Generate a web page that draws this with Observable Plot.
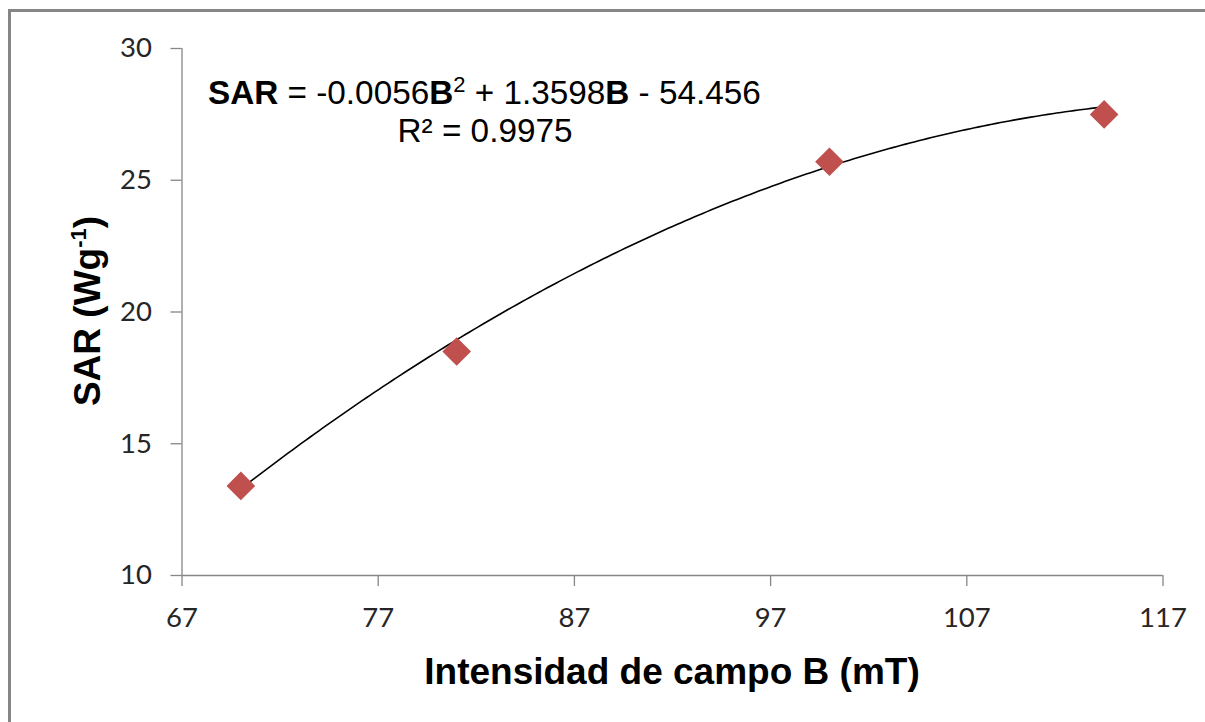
<!DOCTYPE html>
<html>
<head>
<meta charset="utf-8">
<script src="https://cdn.jsdelivr.net/npm/d3@7"></script>
<script src="https://cdn.jsdelivr.net/npm/@observablehq/plot@0.6"></script>
<style>
  html, body { margin: 0; padding: 0; background: #fff; }
  #wrap { position: relative; width: 1205px; height: 722px; overflow: hidden; }
  #frame { position: absolute; left: 8px; top: 9px; width: 1300px; height: 800px;
           border-top: 3px solid #868686; border-left: 3px solid #868686; }
  #chart { position: absolute; left: 0; top: 0; }
</style>
</head>
<body>
<div id="wrap"><div id="frame"></div><div id="chart"></div></div>
<script>
// Measured SAR at each field intensity
const fieldB = [70, 81, 100, 114];
const sarValues = [13.4, 18.5, 25.7, 27.5];

// Axis ticks
const xTicks = [67, 77, 87, 97, 107, 117];
const yTicks = [10, 15, 20, 25, 30];

// Quadratic trendline: SAR = a·B² + b·B + c
const fitCoefficients = [-0.0056, 1.3598, -54.456];
const rSquared = 0.9975;

const points = fieldB.map((b, i) => ({B: b, SAR: sarValues[i]}));

// Sample the stated trendline across the measured range
const [qa, qb, qc] = fitCoefficients;
const bMin = d3.min(fieldB), bMax = d3.max(fieldB);
const trend = d3.range(0, 201).map(i => {
  const B = bMin + (bMax - bMin) * i / 200;
  return {B, SAR: qa * B * B + qb * B + qc};
});

const axisGray = "#868686";

const chart = Plot.plot({
  width: 1205,
  height: 722,
  marginLeft: 181.5,
  marginRight: 42.5,
  marginTop: 48,
  marginBottom: 147,
  style: {background: "transparent", fontFamily: "Lato, 'Open Sans', sans-serif", fontSize: "27px", color: "#262626"},
  x: {domain: [67, 117]},
  y: {domain: [10, 30]},
  marks: [
    Plot.ruleX([67], {stroke: axisGray, strokeWidth: 1.3}),
    Plot.ruleY([10], {stroke: axisGray, strokeWidth: 1.3}),
    Plot.axisX({ticks: xTicks, tickSize: 11, tickPadding: 21, stroke: axisGray, strokeWidth: 1.3,
                fill: "#262626", fontSize: 27.5, label: null, tickFormat: d => String(d)}),
    Plot.axisY({ticks: yTicks, tickSize: 11, tickPadding: 19, stroke: axisGray, strokeWidth: 1.3,
                fill: "#262626", fontSize: 27.5, label: null, tickFormat: d => String(d)}),
    Plot.line(trend, {x: "B", y: "SAR", stroke: "#000", strokeWidth: 1.6}),
    Plot.dot(points, {x: "B", y: "SAR", symbol: "diamond2", r: 12.9, fill: "#C0504D", stroke: "none"})
  ]
});

document.getElementById("chart").appendChild(chart);

const svg = d3.select(chart);
const titleFont = "'Liberation Sans', Arial, sans-serif";

// x-axis title
svg.append("text")
  .attr("x", 672).attr("y", 684)
  .attr("text-anchor", "middle")
  .attr("font-family", titleFont).attr("font-weight", "bold").attr("font-size", 37)
  .attr("fill", "#000")
  .text("Intensidad de campo B (mT)");

// y-axis title with superscript unit
const yTitle = svg.append("text")
  .attr("transform", "translate(100,311) rotate(-90)")
  .attr("text-anchor", "middle")
  .attr("font-family", titleFont).attr("font-weight", "bold").attr("font-size", 37)
  .attr("fill", "#000");
yTitle.append("tspan").text("SAR (Wg");
yTitle.append("tspan").attr("font-size", 22).attr("dy", -14).text("-1");
yTitle.append("tspan").attr("dy", 14).text(")");

// Trendline equation
const fmt = v => String(v);
const eq = svg.append("text")
  .attr("x", 208).attr("y", 104)
  .attr("text-anchor", "start")
  .attr("font-family", titleFont).attr("font-size", 33.3)
  .attr("fill", "#000");
eq.append("tspan").attr("font-weight", "bold").text("SAR");
eq.append("tspan").text(` = ${fmt(qa)}`);
eq.append("tspan").attr("font-weight", "bold").text("B");
eq.append("tspan").attr("font-size", 22).attr("dy", -12).text("2");
eq.append("tspan").attr("dy", 12).text(` + ${fmt(qb)}`);
eq.append("tspan").attr("font-weight", "bold").text("B");
eq.append("tspan").text(` - ${fmt(-qc)}`);

svg.append("text")
  .attr("x", 485).attr("y", 142)
  .attr("text-anchor", "middle")
  .attr("font-family", titleFont).attr("font-size", 33.3)
  .attr("fill", "#000")
  .text(`R² = ${rSquared}`);
</script>
</body>
</html>
